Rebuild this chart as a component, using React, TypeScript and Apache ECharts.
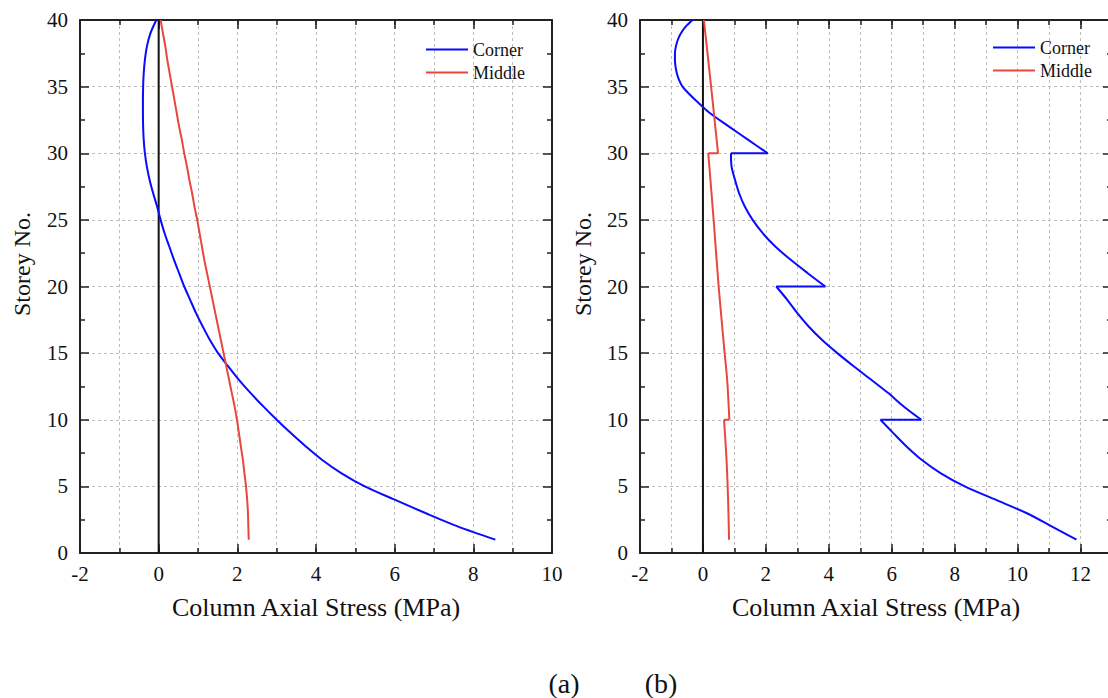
import React, { useEffect, useRef } from "react";
import * as echarts from "echarts";

// ---------- data ----------
const storeys = [1, 2, 3, 4, 5, 6, 7, 8, 9, 10, 11, 12, 13, 14, 15, 16, 17, 18, 19, 20,
  21, 22, 23, 24, 25, 26, 27, 28, 29, 30, 31, 32, 33, 34, 35, 36, 37, 38, 39, 40];

// (a) Corner column stress by storey 1..40
const aCorner = [8.56, 7.6, 6.78, 6.0, 5.24, 4.64, 4.15, 3.74, 3.36, 3.0,
  2.66, 2.34, 2.04, 1.77, 1.51, 1.3, 1.12, 0.95, 0.8, 0.65,
  0.52, 0.39, 0.27, 0.15, 0.05, -0.04, -0.14, -0.23, -0.3, -0.35,
  -0.38, -0.395, -0.4, -0.4, -0.395, -0.38, -0.35, -0.3, -0.21, -0.06];

// (a) Middle column stress by storey 1..40
const aMiddle = [2.29, 2.28, 2.27, 2.25, 2.22, 2.18, 2.14, 2.09, 2.04, 1.99,
  1.93, 1.86, 1.79, 1.72, 1.65, 1.58, 1.51, 1.44, 1.37, 1.3,
  1.23, 1.16, 1.1, 1.04, 0.98, 0.91, 0.85, 0.78, 0.72, 0.65,
  0.59, 0.52, 0.46, 0.4, 0.34, 0.28, 0.22, 0.17, 0.11, 0.05];

// (b) Corner column: storey / stress (a repeated storey marks a jump)
const bCornerStorey = [40, 39.5, 39, 38.5, 38, 37.5, 37, 36.5, 36, 35.5, 35, 34.5, 34, 33, 32, 31, 30,
  30, 29, 28, 27, 26, 25, 24, 23, 22, 21, 20,
  20, 19, 18, 17, 16, 15, 14, 13, 12, 11, 10,
  10, 9, 8, 7, 6, 5, 4, 3, 2, 1];
const bCornerStress = [-0.33, -0.55, -0.7, -0.8, -0.86, -0.89, -0.89, -0.87, -0.83, -0.76, -0.65, -0.46, -0.24, 0.23, 0.83, 1.44, 2.06,
  0.89, 0.91, 1.02, 1.15, 1.33, 1.58, 1.9, 2.3, 2.79, 3.33, 3.89,
  2.33, 2.68, 3.0, 3.36, 3.78, 4.27, 4.8, 5.35, 5.89, 6.38, 6.94,
  5.64, 6.05, 6.47, 6.95, 7.55, 8.32, 9.3, 10.28, 11.08, 11.87];

// (b) Middle column
const bMiddleStorey = [40, 35, 30, 30, 25, 20, 15, 13, 10, 10, 7, 4, 1];
const bMiddleStress = [0.03, 0.26, 0.48, 0.17, 0.34, 0.5, 0.69, 0.77, 0.84, 0.67, 0.75, 0.8, 0.83];

const seriesNames = ["Corner", "Middle"];
const xTitle = "Column Axial Stress (MPa)";
const yTitle = "Storey No.";
const panelLabels = ["(a)", "(b)"];
const xMins = [-2, -2];
const xMaxs = [10, 13];

// ---------- styles ----------
const FONT = "'Liberation Serif', 'Times New Roman', serif";
const FRAME = "#222";
const GRIDC = "#bdbdbd";
const BLUE = "#0a0aff";
const RED = "#e8473f";
const tickRich = { t: { fontFamily: FONT, fontSize: 21, color: "#111" } };

function xAxes(g: number, min: number, max: number) {
  return [
    {
      gridIndex: g, type: "value", position: "bottom", min, max, interval: 1,
      axisLine: { show: true, onZero: false, lineStyle: { color: FRAME, width: 2 } },
      axisTick: { show: true, inside: true, length: 5, lineStyle: { color: FRAME, width: 1.5 } },
      axisLabel: {
        show: true, margin: 10, color: "#111", fontFamily: FONT, fontSize: 21, rich: tickRich,
        formatter: (v: number) => (Math.round(v) % 2 === 0 ? `{t|${v}}` : ""),
      },
      splitLine: { show: true, lineStyle: { color: GRIDC, type: [3, 3], width: 1 } },
    },
    {
      gridIndex: g, type: "value", position: "bottom", min, max, interval: 2,
      axisLine: { show: false, onZero: false },
      axisTick: { show: true, inside: true, length: 9, lineStyle: { color: FRAME, width: 1.5 } },
      axisLabel: { show: false }, splitLine: { show: false },
    },
    {
      gridIndex: g, type: "value", position: "top", min, max, interval: 1,
      axisLine: { show: true, onZero: false, lineStyle: { color: FRAME, width: 2 } },
      axisTick: { show: true, inside: true, length: 5, lineStyle: { color: FRAME, width: 1.5 } },
      axisLabel: { show: false }, splitLine: { show: false },
    },
    {
      gridIndex: g, type: "value", position: "top", min, max, interval: 2,
      axisLine: { show: false, onZero: false },
      axisTick: { show: true, inside: true, length: 9, lineStyle: { color: FRAME, width: 1.5 } },
      axisLabel: { show: false }, splitLine: { show: false },
    },
  ];
}

function yAxes(g: number) {
  const common = {
    gridIndex: g, type: "value", min: 0, max: 40, interval: 5,
    axisLine: { show: true, onZero: false, lineStyle: { color: FRAME, width: 2 } },
    axisTick: { show: true, inside: true, length: 9, lineStyle: { color: FRAME, width: 1.5 } },
    minorTick: { show: true, splitNumber: 2, length: 5, lineStyle: { color: FRAME, width: 1.5 } },
  };
  return [
    {
      ...common, position: "left",
      axisLabel: {
        show: true, margin: 12, color: "#111", fontFamily: FONT, fontSize: 21, rich: tickRich,
        formatter: (v: number) => `{t|${v}}`,
      },
      splitLine: { show: true, lineStyle: { color: GRIDC, type: [3, 3], width: 1 } },
    },
    {
      ...common, position: "right",
      axisLabel: { show: false }, splitLine: { show: false },
    },
  ];
}

function lineSeries(name: string, data: number[][], color: string, xi: number, yi: number, smooth: number | boolean) {
  return {
    name, type: "line", data, xAxisIndex: xi, yAxisIndex: yi,
    showSymbol: false, symbol: "none", smooth,
    lineStyle: { color, width: 2 }, itemStyle: { color }, z: 5,
  };
}

// split a profile at repeated storeys: smooth curve pieces + straight jump pieces
function profileSeries(name: string, st: number[], vals: number[], color: string, xi: number, yi: number) {
  const out: any[] = [];
  let cur: number[][] = [[vals[0], st[0]]];
  for (let i = 1; i < st.length; i++) {
    if (st[i] === st[i - 1]) {
      out.push(lineSeries(name, cur, color, xi, yi, 0.3));
      out.push(lineSeries(name, [[vals[i - 1], st[i - 1]], [vals[i], st[i]]], color, xi, yi, false));
      cur = [[vals[i], st[i]]];
    } else {
      cur.push([vals[i], st[i]]);
    }
  }
  out.push(lineSeries(name, cur, color, xi, yi, 0.3));
  return out;
}

function zeroLine(xi: number, yi: number) {
  return {
    name: "zero", type: "line", data: [[0, 0], [0, 40]], xAxisIndex: xi, yAxisIndex: yi,
    showSymbol: false, symbol: "none", silent: true,
    lineStyle: { color: "#111", width: 2 }, itemStyle: { color: "#111" }, z: 4,
  };
}

function titleText(text: string, x: number, y: number, size: number, rotation = 0) {
  return {
    type: "text", x, y, rotation, z: 10,
    style: {
      text, fontFamily: FONT, fontSize: size, fill: "#111",
      textAlign: "center", textVerticalAlign: "middle",
    },
  };
}

export default function App() {
  const ref = useRef<HTMLDivElement>(null);

  useEffect(() => {
    if (!ref.current) return;
    const chart = echarts.init(ref.current, undefined, { renderer: "svg" });

    const aCornerData = storeys.map((s, i) => [aCorner[i], s]);
    const aMiddleData = storeys.map((s, i) => [aMiddle[i], s]);

    const legendCommon = {
      data: [
        { name: seriesNames[0], icon: "rect", itemStyle: { color: BLUE } },
        { name: seriesNames[1], icon: "rect", itemStyle: { color: RED } },
      ],
      orient: "vertical", itemWidth: 42, itemHeight: 2, itemGap: 2,
      textStyle: { fontFamily: FONT, fontSize: 18, color: "#111", lineHeight: 21 },
      selectedMode: false, padding: 0,
    };

    chart.setOption({
      animation: false,
      backgroundColor: "#ffffff",
      textStyle: { fontFamily: FONT },
      grid: [
        { left: 80, top: 20, width: 472, height: 533 },
        { left: 640, top: 20, width: 472, height: 533 },
      ],
      xAxis: [...xAxes(0, xMins[0], xMaxs[0]), ...xAxes(1, xMins[1], xMaxs[1])],
      yAxis: [...yAxes(0), ...yAxes(1)],
      legend: [
        { ...legendCommon, left: 426, top: 39 },
        { ...legendCommon, left: 993, top: 37 },
      ],
      series: [
        zeroLine(0, 0),
        lineSeries(seriesNames[0], aCornerData, BLUE, 0, 0, 0.3),
        lineSeries(seriesNames[1], aMiddleData, RED, 0, 0, 0.3),
        zeroLine(4, 2),
        ...profileSeries(seriesNames[0], bCornerStorey, bCornerStress, BLUE, 4, 2),
        ...profileSeries(seriesNames[1], bMiddleStorey, bMiddleStress, RED, 4, 2),
      ],
      graphic: [
        titleText(xTitle, 316, 607, 26),
        titleText(xTitle, 876, 607, 26),
        titleText(yTitle, 22, 264, 24, Math.PI / 2),
        titleText(yTitle, 583, 264, 24, Math.PI / 2),
        titleText(panelLabels[0], 564, 683, 28),
        titleText(panelLabels[1], 661, 683, 28),
      ],
    });

    return () => chart.dispose();
  }, []);

  return (
    <div style={{ position: "fixed", left: 0, top: 0, width: 1108, height: 698, overflow: "hidden", background: "#fff" }}>
      <div ref={ref} style={{ width: 1120, height: 698 }} />
    </div>
  );
}
